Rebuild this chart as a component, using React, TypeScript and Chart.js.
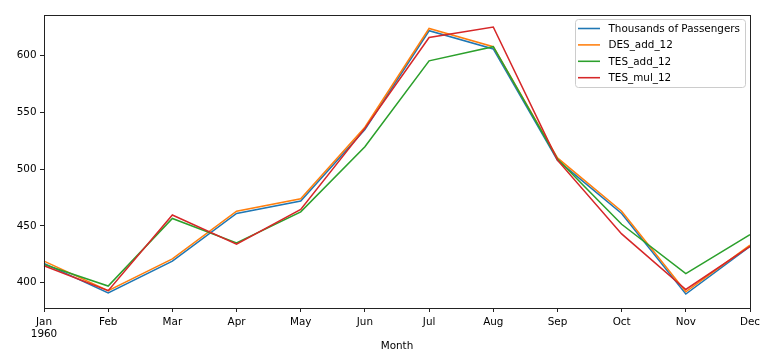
import React, { useEffect, useRef } from "react";
import { Chart, registerables } from "chart.js";

Chart.register(...registerables);

const months = ["Jan", "Feb", "Mar", "Apr", "May", "Jun", "Jul", "Aug", "Sep", "Oct", "Nov", "Dec"];
const yearLabel = "1960";
const yTicks = [400, 450, 500, 550, 600];

const passengers = [417, 391, 419, 461, 472, 535, 622, 606, 508, 461, 390, 432];
const desAdd12 = [419, 393, 421, 463, 474, 537, 624, 608, 510, 463, 392, 433];
const tesAdd12 = [416, 397, 456.6, 435, 462.4, 519.8, 595.5, 608, 509, 451.5, 408, 442.4];
const tesMul12 = [415, 393, 459.7, 434, 464.5, 536, 616, 625.3, 508, 443, 394, 432];

const seriesNames = ["Thousands of Passengers", "DES_add_12", "TES_add_12", "TES_mul_12"];
const seriesColors = ["#1f77b4", "#ff7f0e", "#2ca02c", "#d62728"];

const FONT = "DejaVu Sans";
const FS = 10.4;

const framePlugin = {
  id: "frame",
  afterDatasetsDraw(chart: any) {
    const { ctx, chartArea } = chart;
    ctx.save();
    ctx.strokeStyle = "#222";
    ctx.lineWidth = 1;
    ctx.strokeRect(
      Math.round(chartArea.left) + 0.5,
      Math.round(chartArea.top) + 0.5,
      Math.round(chartArea.right - chartArea.left),
      Math.round(chartArea.bottom - chartArea.top)
    );
    ctx.restore();
  },
  afterDraw(chart: any) {
    const { ctx, chartArea } = chart;
    const datasets = chart.data.datasets;
    const boxRight = chartArea.right - 5;
    const boxW = 170;
    const boxLeft = boxRight - boxW;
    const boxTop = chartArea.top + 4;
    const boxH = 68;
    ctx.save();
    ctx.fillStyle = "rgba(255,255,255,0.8)";
    ctx.strokeStyle = "#cccccc";
    ctx.lineWidth = 1;
    ctx.beginPath();
    const r = 3;
    const x = boxLeft + 0.5, y = boxTop + 0.5, w = boxW, h = boxH;
    ctx.moveTo(x + r, y);
    ctx.lineTo(x + w - r, y);
    ctx.arcTo(x + w, y, x + w, y + r, r);
    ctx.lineTo(x + w, y + h - r);
    ctx.arcTo(x + w, y + h, x + w - r, y + h, r);
    ctx.lineTo(x + r, y + h);
    ctx.arcTo(x, y + h, x, y + h - r, r);
    ctx.lineTo(x, y + r);
    ctx.arcTo(x, y, x + r, y, r);
    ctx.closePath();
    ctx.fill();
    ctx.stroke();
    ctx.font = `${FS}px "${FONT}"`;
    ctx.textBaseline = "middle";
    ctx.textAlign = "left";
    datasets.forEach((ds: any, i: number) => {
      const cy = boxTop + 9.5 + i * 16.4;
      ctx.strokeStyle = ds.borderColor;
      ctx.lineWidth = 1.56;
      ctx.beginPath();
      ctx.moveTo(boxLeft + 3, cy);
      ctx.lineTo(boxLeft + 25, cy);
      ctx.stroke();
      ctx.fillStyle = "#000";
      ctx.fillText(ds.label, boxLeft + 33.5, cy + 0.5);
    });
    ctx.restore();
  },
};

export default function App() {
  const ref = useRef<HTMLCanvasElement | null>(null);

  useEffect(() => {
    if (!ref.current) return;
    const seriesData = [passengers, desAdd12, tesAdd12, tesMul12];
    const chart = new Chart(ref.current, {
      type: "line",
      data: {
        labels: months.map((m, i) => (i === 0 ? [m, yearLabel] : m)),
        datasets: seriesData.map((d, i) => ({
          label: seriesNames[i],
          data: d,
          borderColor: seriesColors[i],
          backgroundColor: seriesColors[i],
          borderWidth: 1.56,
          pointRadius: 0,
          tension: 0,
          fill: false,
          order: 4 - i,
        })),
      },
      options: {
        animation: false,
        responsive: false,
        maintainAspectRatio: false,
        layout: { padding: { top: 15, right: 22, left: 0, bottom: 0 } },
        plugins: {
          legend: { display: false },
          tooltip: { enabled: false },
        },
        scales: {
          x: {
            type: "category",
            offset: false,
            grid: {
              drawOnChartArea: false,
              drawTicks: true,
              tickLength: 4,
              color: "#222",
            },
            border: { display: false },
            ticks: {
              color: "#000",
              font: { family: FONT, size: FS, lineHeight: 1.2 },
              padding: 4,
              maxRotation: 0,
              autoSkip: false,
            },
            title: {
              display: true,
              text: "Month",
              color: "#000",
              font: { family: FONT, size: FS },
              padding: { top: 0, bottom: 8 },
            },
            afterFit(scale: any) {
              scale.height = 53;
            },
          },
          y: {
            type: "linear",
            min: 377.7,
            max: 635.9,
            grid: {
              drawOnChartArea: false,
              drawTicks: true,
              tickLength: 4,
              color: "#222",
            },
            border: { display: false },
            ticks: {
              color: "#000",
              font: { family: FONT, size: FS },
              padding: 3.5,
            },
            afterBuildTicks(scale: any) {
              scale.ticks = yTicks.map((v) => ({ value: v }));
            },
            afterFit(scale: any) {
              scale.width = 44;
            },
          },
        },
      },
      plugins: [framePlugin],
    });
    return () => chart.destroy();
  }, []);

  return (
    <div style={{ position: "fixed", left: 0, top: 0, width: 772, height: 361, background: "#fff" }}>
      <canvas ref={ref} width={772} height={361} style={{ width: 772, height: 361 }} />
    </div>
  );
}
